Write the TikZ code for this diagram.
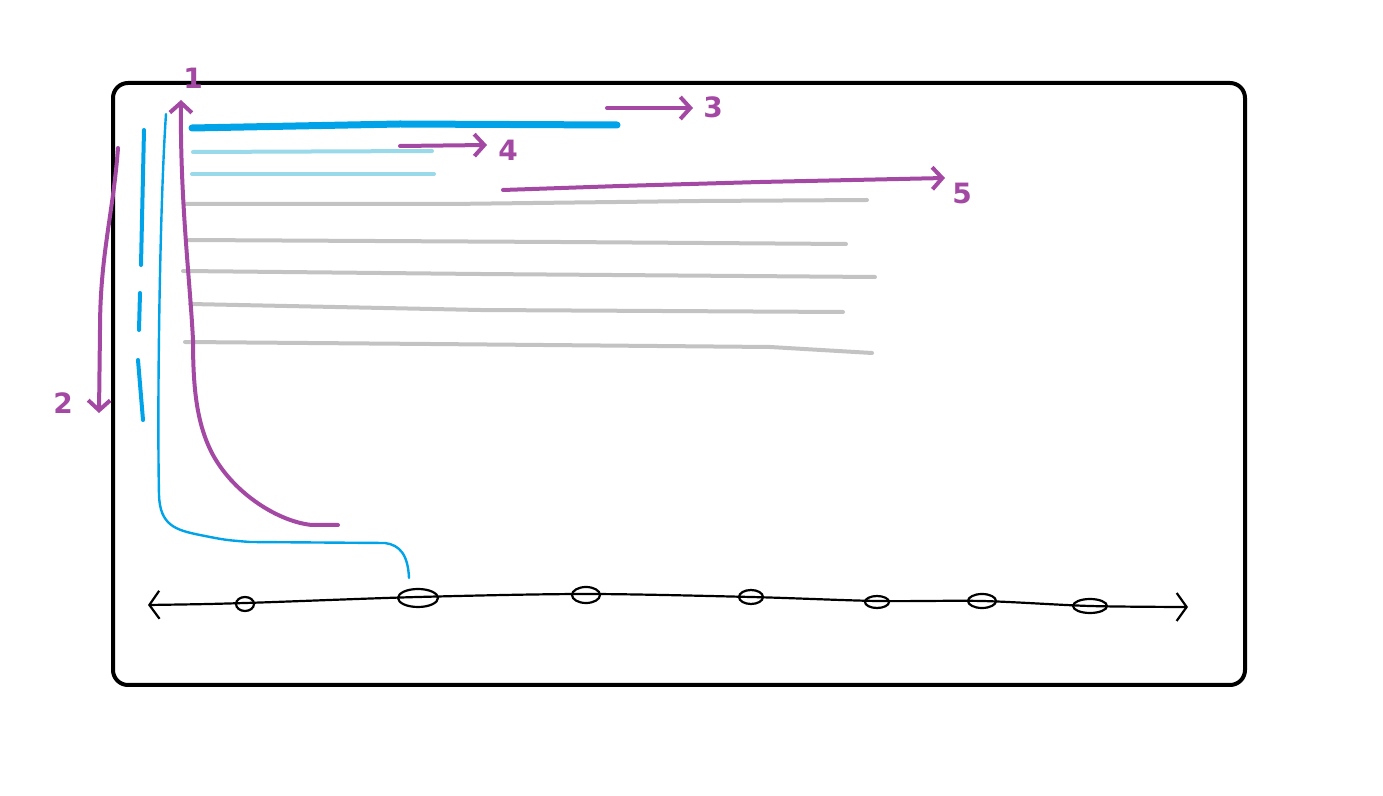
\documentclass[tikz,border=0pt]{standalone}
\usepackage{fontspec}
\setsansfont{DejaVu Sans}
\usepackage{tikz}
\usetikzlibrary{arrows.meta}
\definecolor{paintblue}{RGB}{0,162,232}
\definecolor{paintlight}{RGB}{153,217,234}
\definecolor{paintgray}{RGB}{195,195,195}
\definecolor{marker}{RGB}{163,73,164}

\begin{document}
\begin{tikzpicture}[
    x=0.5pt, y=-0.5pt,
    frame/.style={draw=black, line width=2pt, rounded corners=7.5pt},
    thickbar/.style={draw=paintblue, line width=3.5pt, line cap=round},
    thinbar/.style={draw=paintlight, line width=2pt, line cap=round},
    graybar/.style={draw=paintgray, line width=2pt, line cap=round},
    blueline/.style={draw=paintblue, line width=1.2pt, line cap=round},
    pen/.style={draw=marker, line width=2pt, line cap=round, line join=round,
                -{Straight Barb[length=5pt, width=11pt]}},
    digit/.style={text=marker, font=\sffamily\bfseries\fontsize{14}{14}\selectfont, inner sep=1pt},
    axis/.style={draw=black, line width=1.1pt, line cap=round,
                 {Straight Barb[length=5pt, width=14pt]}-{Straight Barb[length=5pt, width=14pt]}},
    tick/.style={draw=black, line width=1.1pt},
]
\useasboundingbox (0,0) rectangle (1383,796);

% outer frame
\draw[frame] (113,83) rectangle (1245,685);

% text lines
\draw[thickbar] (192,128) -- (400,124) -- (617,125);
\draw[thinbar] (193,152) -- (432,151);
\draw[thinbar] (192,174) -- (434,174);
\draw[graybar] (186,204) -- (450,204) -- (700,201) -- (867,200);
\draw[graybar] (188,240) -- (560,242) -- (846,244);
\draw[graybar] (183,271) -- (480,274) -- (875,277);
\draw[graybar] (190,304) -- (480,310) -- (843,312);
\draw[graybar] (185,342) -- (430,344) -- (770,347) -- (872,353);

% scroll marks
\draw[blueline, line width=2pt] (144,130) -- (141,265);
\draw[blueline, line width=2pt] (140,293) -- (139,330);
\draw[blueline, line width=2pt] (138,360) -- (143,420);
\draw[blueline] (166,114) .. controls (160,200) and (157,400) .. (159,495)
    .. controls (160,525) and (175,530) .. (200,535)
    .. controls (225,540) .. (250,542) -- (385,543)
    .. controls (400,545) and (408,555) .. (409,578);

% number line
\draw[axis] plot[smooth] coordinates {(148,605) (245,603) (418,597) (586,594) (751,597) (877,601) (982,601) (1090,606) (1188,607)};
\draw[tick] (245,604) ellipse [x radius=4.5pt, y radius=3.5pt];
\draw[tick] (418,598) ellipse [x radius=10pt, y radius=4.5pt];
\draw[tick] (586,595) ellipse [x radius=7pt, y radius=4pt];
\draw[tick] (751,597) ellipse [x radius=6pt, y radius=3.5pt];
\draw[tick] (877,602) ellipse [x radius=6pt, y radius=3pt];
\draw[tick] (982,601) ellipse [x radius=7pt, y radius=3.5pt];
\draw[tick] (1090,606) ellipse [x radius=8.5pt, y radius=3.5pt];

% labels
\node[digit] (one) at (193,78) {1};
\node[digit] (two) at (63,403) {2};
\node[digit] (three) at (713,107) {3};
\node[digit] (four) at (508,150) {4};
\node[digit] (five) at (962,193) {5};

% arrows
\draw[pen] (338,525) -- (312,525) .. controls (280,522) and (235,495) .. (213,455)
    .. controls (197,425) and (193,390) .. (193,340)
    .. controls (190,280) and (180,200) .. (181,100);
\draw[pen] (118,148) .. controls (113,215) and (100,255) .. (100,330) -- (99,413);
\draw[pen] (607,108) -- (693,108);
\draw[pen] (400,146) -- (487,145);
\draw[pen] (503,190) -- (620,186) -- (760,182) -- (945,178);
\end{tikzpicture}
\end{document}
